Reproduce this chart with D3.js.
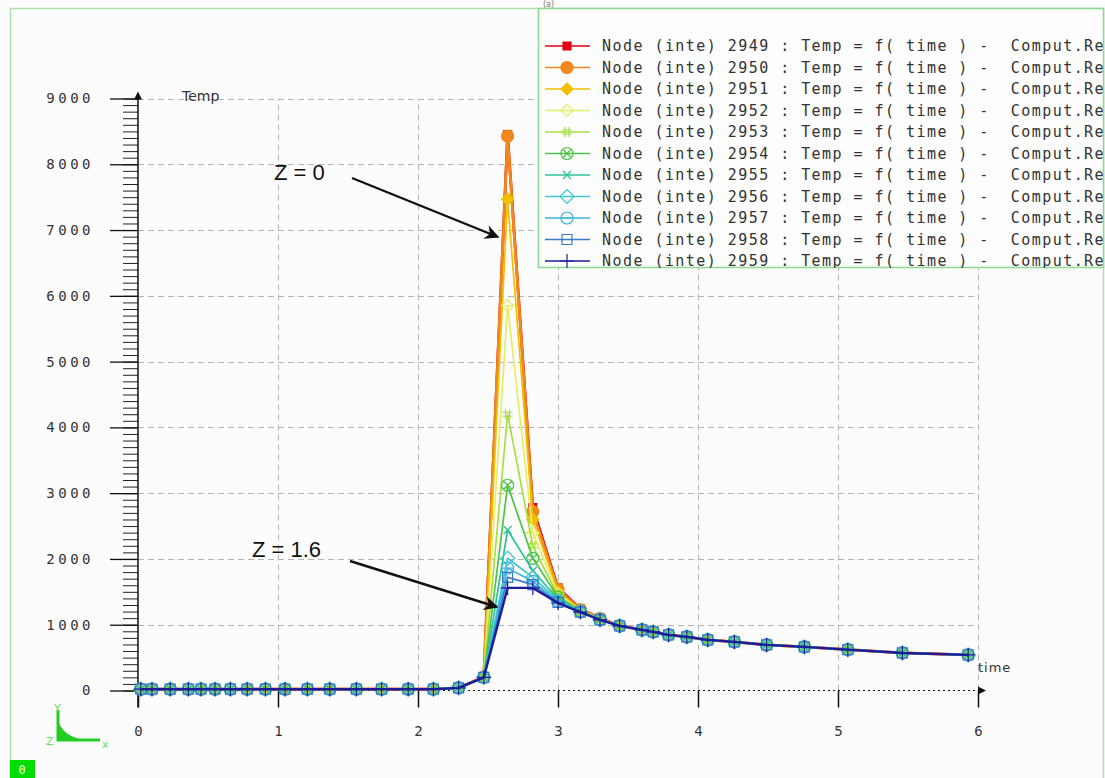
<!DOCTYPE html>
<html>
<head>
<meta charset="utf-8">
<script src="https://cdn.jsdelivr.net/npm/d3@7"></script>
<style>
body { margin: 0; background: #fcfcfc; }
svg { display: block; }
</style>
</head>
<body>
<div id="chart"></div>
<script>
// time steps (s)
var timeValues = [0.02, 0.1, 0.23, 0.36, 0.45, 0.55, 0.66, 0.78, 0.91, 1.05, 1.21, 1.37, 1.56, 1.74, 1.93, 2.11,
    2.29, 2.47, 2.64, 2.82, 3.0, 3.16, 3.3, 3.44, 3.6, 3.68, 3.79, 3.92, 4.07, 4.26, 4.49, 4.76, 5.07, 5.46, 5.93];

// Temp for each node
var node2949 = [20, 20, 20, 20, 20, 20, 20, 20, 20, 20, 20, 20, 20, 20, 20, 20, 40, 205, 8450, 2780, 1560, 1240, 1100, 985, 921, 891, 845, 815, 769, 739, 693, 663, 621, 571, 541];
var node2950 = [20, 20, 20, 20, 20, 20, 20, 20, 20, 20, 20, 20, 20, 20, 20, 20, 40, 205, 8430, 2720, 1540, 1230, 1095, 985, 921, 891, 845, 815, 769, 739, 693, 663, 621, 571, 541];
var node2951 = [20, 20, 20, 20, 20, 20, 20, 20, 20, 20, 20, 20, 20, 20, 20, 20, 40, 200, 7470, 2600, 1500, 1225, 1090, 984, 921, 891, 845, 815, 769, 739, 693, 663, 621, 571, 541];
var node2952 = [20, 20, 20, 20, 20, 20, 20, 20, 20, 20, 20, 20, 20, 20, 20, 20, 40, 200, 5850, 2400, 1470, 1220, 1088, 984, 921, 891, 845, 815, 769, 739, 693, 663, 621, 571, 541];
var node2953 = [20, 20, 20, 20, 20, 20, 20, 20, 20, 20, 20, 20, 20, 20, 20, 20, 40, 200, 4200, 2200, 1440, 1215, 1085, 983, 921, 891, 845, 815, 769, 739, 693, 663, 621, 571, 541];
var node2954 = [20, 20, 20, 20, 20, 20, 20, 20, 20, 20, 20, 20, 20, 20, 20, 20, 40, 200, 3120, 2010, 1420, 1210, 1083, 983, 921, 891, 845, 815, 769, 739, 693, 663, 621, 571, 541];
var node2955 = [20, 20, 20, 20, 20, 20, 20, 20, 20, 20, 20, 20, 20, 20, 20, 20, 40, 200, 2440, 1820, 1390, 1205, 1080, 983, 921, 891, 845, 815, 769, 739, 693, 663, 621, 571, 541];
var node2956 = [20, 20, 20, 20, 20, 20, 20, 20, 20, 20, 20, 20, 20, 20, 20, 20, 40, 200, 2010, 1720, 1370, 1200, 1078, 982, 921, 891, 845, 815, 769, 739, 693, 663, 621, 571, 541];
var node2957 = [20, 20, 20, 20, 20, 20, 20, 20, 20, 20, 20, 20, 20, 20, 20, 20, 40, 200, 1860, 1660, 1350, 1195, 1076, 982, 921, 891, 845, 815, 769, 739, 693, 663, 621, 571, 541];
var node2958 = [20, 20, 20, 20, 20, 20, 20, 20, 20, 20, 20, 20, 20, 20, 20, 20, 40, 200, 1720, 1610, 1340, 1192, 1075, 982, 921, 891, 845, 815, 769, 739, 693, 663, 621, 571, 541];
var node2959 = [20, 20, 20, 20, 20, 20, 20, 20, 20, 20, 20, 20, 20, 20, 20, 20, 40, 200, 1560, 1560, 1330, 1190, 1073, 982, 921, 891, 845, 815, 769, 739, 693, 663, 621, 571, 541];

var nodeIds = [2949, 2950, 2951, 2952, 2953, 2954, 2955, 2956, 2957, 2958, 2959];
var nodeColors = ["#e00014", "#f0881c", "#f0c000", "#e6ee66", "#a6e040", "#4cc444", "#2ec098", "#3ccad0", "#3cb2de", "#3a78c8", "#1c1c9a"];
var nodeMarkers = ["sqf", "cirf", "diaf", "diao2", "hash", "cirx", "x", "diao", "ciro", "sqo", "plus"];

var yTicks = [0, 1000, 2000, 3000, 4000, 5000, 6000, 7000, 8000, 9000];
var xTicks = [0, 1, 2, 3, 4, 5, 6];

var series = [node2949, node2950, node2951, node2952, node2953, node2954, node2955, node2956, node2957, node2958, node2959];

var width = 1105, height = 778;
var svg = d3.select("#chart").append("svg")
    .attr("width", width)
    .attr("height", height);

svg.append("rect").attr("width", width).attr("height", height).attr("fill", "#fcfcfc");

var x = d3.scaleLinear().domain([0, 6]).range([138, 978]);
var y = d3.scaleLinear().domain([0, 9000]).range([690.5, 98.5]);

// outer frame
svg.append("path")
    .attr("d", "M10.5,778 L10.5,8.5 L1103.5,8.5 L1103.5,778")
    .attr("fill", "none").attr("stroke", "#a8e4a8").attr("stroke-width", 1.5);

svg.append("text").attr("x", 543).attr("y", 7).attr("font-family", "DejaVu Sans").attr("font-size", 8)
    .attr("fill", "#777").text("(a)");

// grid
svg.append("g").selectAll("line").data(yTicks.slice(1)).enter().append("line")
    .attr("x1", x(0)).attr("x2", x(6))
    .attr("y1", function (d) { return Math.round(y(d)) + 0.5; })
    .attr("y2", function (d) { return Math.round(y(d)) + 0.5; })
    .attr("stroke", "#b4b4b4").attr("stroke-dasharray", "6,4");
svg.append("g").selectAll("line").data(xTicks.slice(1)).enter().append("line")
    .attr("y1", y(0)).attr("y2", y(9000))
    .attr("x1", function (d) { return Math.round(x(d)) + 0.5; })
    .attr("x2", function (d) { return Math.round(x(d)) + 0.5; })
    .attr("stroke", "#b4b4b4").attr("stroke-dasharray", "6,4");

// y axis: minor and major ticks
var minorAxis = svg.append("g").attr("transform", "translate(" + x(0) + ",0)")
    .call(d3.axisLeft(y).tickValues(d3.range(0, 9001, 100)).tickSize(15).tickFormat(""));
minorAxis.select(".domain").remove();
minorAxis.selectAll("line").attr("stroke", "#222");

var majorAxis = svg.append("g").attr("transform", "translate(" + x(0) + ",0)")
    .call(d3.axisLeft(y).tickValues(yTicks).tickSize(28).tickPadding(16).tickFormat(d3.format("d")));
majorAxis.select(".domain").remove();
majorAxis.selectAll("line").attr("stroke", "#111").attr("stroke-width", 1.3);
majorAxis.selectAll("text")
    .attr("font-family", "DejaVu Sans Mono").attr("font-size", 14)
    .attr("letter-spacing", "3.5px").attr("fill", "#333");

// x axis ticks
var xAxis = svg.append("g").attr("transform", "translate(0," + y(0) + ")")
    .call(d3.axisBottom(x).tickValues(xTicks).tickSize(17).tickPadding(19).tickFormat(d3.format("d")));
xAxis.select(".domain").remove();
xAxis.selectAll("line").attr("stroke", "#111").attr("stroke-width", 1.5);
xAxis.selectAll("text")
    .attr("font-family", "DejaVu Sans Mono").attr("font-size", 14).attr("fill", "#333");

// axis lines with arrows
svg.append("line").attr("x1", x(0)).attr("x2", x(0)).attr("y1", y(0) + 17).attr("y2", y(9000) - 2)
    .attr("stroke", "#111").attr("stroke-width", 1.5);
svg.append("path").attr("d", "M" + x(0) + "," + (y(9000) - 7) + " l-4,8 l8,0 z").attr("fill", "#111");
svg.append("line").attr("x1", x(0)).attr("x2", x(6) + 2).attr("y1", y(0)).attr("y2", y(0))
    .attr("stroke", "#111").attr("stroke-width", 1.2).attr("stroke-dasharray", "2,3");
svg.append("path").attr("d", "M" + (x(6) + 8) + "," + y(0) + " l-8,-4 l0,8 z").attr("fill", "#111");

svg.append("text").attr("x", 182).attr("y", 101).attr("font-family", "DejaVu Sans").attr("font-size", 14)
    .attr("fill", "#333").text("Temp");
svg.append("text").attr("x", 978).attr("y", 672).attr("font-family", "DejaVu Sans").attr("font-size", 13)
    .attr("letter-spacing", "1px").attr("fill", "#333").text("time");

// marker shapes
function markerPath(type) {
    function circ(r) { return "M" + (-r) + ",0A" + r + "," + r + " 0 1,0 " + r + ",0A" + r + "," + r + " 0 1,0 " + (-r) + ",0Z"; }
    switch (type) {
        case "sqf": return "M-4,-4H4V4H-4Z";
        case "cirf": return circ(6);
        case "diaf": return "M0,-6L6,0L0,6L-6,0Z";
        case "diao2": return "M0,-6L6,0L0,6L-6,0Z M-7,0H7";
        case "hash": return "M-2,-5V5M2,-5V5M-5,-2H5M-5,2H5";
        case "cirx": return circ(6) + "M-4,-4L4,4M-4,4L4,-4";
        case "x": return "M-4,-4L4,4M-4,4L4,-4";
        case "diao": return "M0,-7L7,0L0,7L-7,0Z";
        case "ciro": return circ(6) + "M-6,0H6";
        case "sqo": return "M-5,-5H5V5H-5Z";
        case "plus": return "M0,-7V7M-7,0H7";
    }
}
function isFilled(type) { return type === "sqf" || type === "cirf" || type === "diaf"; }

var line = d3.line()
    .x(function (d) { return x(d[0]); })
    .y(function (d) { return y(d[1]); });

var plot = svg.append("g");
series.forEach(function (vals, i) {
    var pts = timeValues.map(function (t, k) { return [t, vals[k]]; });
    var g = plot.append("g");
    g.append("path").datum(pts).attr("d", line)
        .attr("fill", "none").attr("stroke", nodeColors[i])
        .attr("stroke-width", i < 2 ? 2.8 : (i === 10 ? 2.4 : 1.7))
        .attr("stroke-linejoin", "round");
    g.selectAll("path.mk").data(pts).enter().append("path").attr("class", "mk")
        .attr("transform", function (d) { return "translate(" + x(d[0]) + "," + y(d[1]) + ")"; })
        .attr("d", markerPath(nodeMarkers[i]))
        .attr("fill", isFilled(nodeMarkers[i]) ? nodeColors[i] : "none")
        .attr("stroke", nodeColors[i]).attr("stroke-width", 1.2);
});

// annotations
var defs = svg.append("defs");
defs.append("marker").attr("id", "arrowHead").attr("viewBox", "0 0 10 10")
    .attr("refX", 9).attr("refY", 5).attr("markerWidth", 8).attr("markerHeight", 6)
    .attr("orient", "auto").attr("markerUnits", "strokeWidth")
    .append("path").attr("d", "M0,0 L10,5 L0,10 L3,5 z").attr("fill", "#111");

svg.append("line").attr("x1", 352).attr("y1", 178).attr("x2", 498).attr("y2", 237)
    .attr("stroke", "#111").attr("stroke-width", 2.4).attr("marker-end", "url(#arrowHead)");
svg.append("line").attr("x1", 350).attr("y1", 561).attr("x2", 497).attr("y2", 607)
    .attr("stroke", "#111").attr("stroke-width", 2.4).attr("marker-end", "url(#arrowHead)");
svg.append("text").attr("x", 274).attr("y", 180).attr("font-family", "Liberation Sans").attr("font-size", 22)
    .attr("fill", "#111").text("Z = 0");
svg.append("text").attr("x", 252).attr("y", 557).attr("font-family", "Liberation Sans").attr("font-size", 22)
    .attr("fill", "#111").text("Z = 1.6");

// legend
defs.append("clipPath").attr("id", "legendClip").append("rect")
    .attr("x", 538).attr("y", 8).attr("width", 565).attr("height", 260);
var legend = svg.append("g");
legend.append("rect").attr("x", 538.5).attr("y", 8.5).attr("width", 565).attr("height", 259)
    .attr("fill", "#fdfdfd").attr("stroke", "#8fd890").attr("stroke-width", 1.5);
var legendRows = legend.append("g").attr("clip-path", "url(#legendClip)")
    .selectAll("g").data(nodeIds).enter().append("g")
    .attr("transform", function (d, i) { return "translate(0," + (46 + i * 21.5) + ")"; });
legendRows.append("line").attr("x1", 545).attr("x2", 590).attr("y1", 0).attr("y2", 0)
    .attr("stroke", function (d, i) { return nodeColors[i]; }).attr("stroke-width", 1.5);
legendRows.append("path").attr("transform", "translate(567,0)")
    .attr("d", function (d, i) { return markerPath(nodeMarkers[i]); })
    .attr("fill", function (d, i) { return isFilled(nodeMarkers[i]) ? nodeColors[i] : "none"; })
    .attr("stroke", function (d, i) { return nodeColors[i]; }).attr("stroke-width", 1.2);
legendRows.append("text").attr("x", 602).attr("y", 5)
    .attr("font-family", "DejaVu Sans Mono").attr("font-size", 15).attr("letter-spacing", "1.45px")
    .attr("fill", "#333").attr("xml:space", "preserve").style("white-space", "pre")
    .text(function (d) { return "Node (inte) " + d + " : Temp = f( time ) -  Comput.Re"; });

// axis triad icon
var triad = svg.append("g").attr("fill", "#22cc22").attr("stroke", "#22cc22");
triad.append("path").attr("d", "M58,710 V740 H100").attr("fill", "none").attr("stroke-width", 3);
triad.append("path").attr("d", "M58,720 Q62,736 84,740 L58,740 Z").attr("stroke", "none");
triad.append("text").attr("x", 54).attr("y", 712).attr("font-family", "DejaVu Sans").attr("font-size", 11)
    .attr("stroke", "none").attr("fill", "#66dd66").text("Y");
triad.append("text").attr("x", 46).attr("y", 745).attr("font-family", "DejaVu Sans").attr("font-size", 11)
    .attr("stroke", "none").attr("fill", "#66dd66").text("Z");
triad.append("text").attr("x", 102).attr("y", 748).attr("font-family", "DejaVu Sans").attr("font-size", 11)
    .attr("stroke", "none").attr("fill", "#66dd66").text("x");

svg.append("rect").attr("x", 10).attr("y", 760).attr("width", 25).attr("height", 18).attr("fill", "#00dd00");
svg.append("text").attr("x", 22).attr("y", 774).attr("text-anchor", "middle").attr("font-family", "DejaVu Sans Mono")
    .attr("font-size", 12).attr("fill", "#e8ffe8").text("0");
</script>
</body>
</html>
